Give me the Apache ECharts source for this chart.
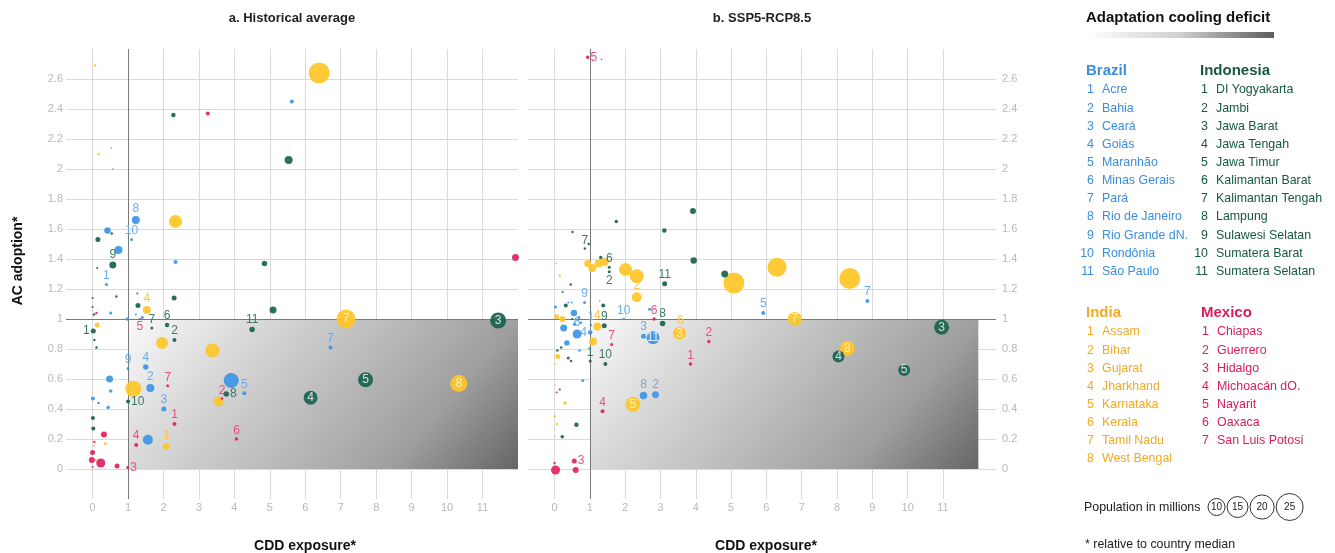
<!DOCTYPE html>
<html>
<head>
<meta charset="utf-8">
<title>AC adoption vs CDD exposure</title>
<script src="https://cdn.jsdelivr.net/npm/echarts@6.0.0/dist/echarts.min.js"></script>
<style>
  html, body { margin: 0; padding: 0; background: #fff; }
  #main { width: 1335px; height: 553px; }
</style>
</head>
<body>
<div id="main"></div>
<script>
// rows: [CDD exposure, AC adoption, population (millions), state number]
var histBrazil = [
  [0.39, 1.23, 0.31, '1'], [1.63, 0.54, 2.19, '2'], [2.01, 0.40, 0.86, '3'], [1.50, 0.68, 1.04, '4'],
  [4.28, 0.505, 0.55, '5'], [1.56, 0.195, 3.43, ''], [6.71, 0.81, 0.55, '7'], [1.22, 1.66, 2.19, '8'],
  [1.00, 0.67, 0.31, '9'], [1.10, 1.53, 0.31, '10'], [3.91, 0.59, 7.72, ''],
  [5.62, 2.45, 0.55, ''], [0.53, 2.14, 0.08, ''], [0.57, 2.00, 0.08, ''], [0.42, 1.59, 1.45, ''],
  [0.73, 1.46, 2.19, ''], [2.34, 1.38, 0.55, ''], [0.51, 1.04, 0.31, ''], [0.98, 1.00, 0.42, ''],
  [1.22, 1.03, 0.14, ''], [1.40, 1.01, 0.31, ''], [0.48, 0.60, 1.68, ''], [0.51, 0.52, 0.42, ''],
  [0.01, 0.47, 0.55, ''], [0.44, 0.41, 0.42, '']
];
var histIndonesia = [
  [0.02, 0.92, 0.86, '1'], [2.31, 0.86, 0.55, '2'], [11.44, 0.99, 8.78, '3'], [6.15, 0.475, 6.72, '4'],
  [7.70, 0.595, 7.72, '5'], [2.10, 0.96, 0.69, '6'], [1.67, 0.94, 0.31, '7'], [3.77, 0.50, 1.04, '8'],
  [0.57, 1.36, 1.68, '9'], [1.00, 0.45, 0.55, '10'], [4.50, 0.93, 1.04, '11'],
  [2.28, 2.36, 0.69, ''], [5.53, 2.06, 2.19, ''], [0.54, 1.57, 0.21, ''], [0.15, 1.53, 0.86, ''],
  [0.13, 1.34, 0.14, ''], [4.85, 1.37, 1.04, ''], [5.09, 1.06, 1.68, ''], [0.00, 1.14, 0.14, ''],
  [0.67, 1.15, 0.21, ''], [2.30, 1.14, 0.86, ''], [0.00, 1.08, 0.14, ''], [0.04, 1.03, 0.21, ''],
  [1.28, 1.09, 0.86, ''], [0.05, 0.86, 0.21, ''], [0.11, 0.81, 0.21, ''], [0.17, 0.44, 0.14, ''],
  [0.01, 0.34, 0.55, ''], [0.02, 0.27, 0.55, '']
];
var histIndia = [
  [2.08, 0.15, 1.68, '1'], [3.55, 0.45, 3.43, ''], [1.53, 1.06, 2.19, '4'], [7.15, 1.00, 12.4, '7'],
  [10.33, 0.57, 9.91, '8'],
  [6.39, 2.64, 15.1, ''], [0.07, 2.69, 0.21, ''], [0.17, 2.10, 0.21, ''], [2.34, 1.65, 5.8, ''],
  [0.13, 0.96, 0.86, ''], [1.96, 0.84, 4.94, ''], [3.38, 0.79, 6.72, ''], [1.15, 0.535, 8.78, ''],
  [0.36, 0.17, 0.31, ''], [0.04, 0.155, 0.14, ''], [0.08, 0.06, 0.21, ''], [0.00, -0.005, 0.14, ''],
  [0.02, 0.27, 0.21, '']
];
var histMexico = [
  [2.31, 0.30, 0.55, '1'], [3.65, 0.47, 0.21, '2'], [0.99, 0.01, 0.31, '3'], [1.23, 0.16, 0.55, '4'],
  [1.33, 1.00, 0.14, '5'], [4.06, 0.20, 0.42, '6'], [2.12, 0.555, 0.31, '7'],
  [3.25, 2.37, 0.55, ''], [11.93, 1.41, 1.68, ''], [1.26, 1.17, 0.14, ''], [0.11, 1.04, 0.21, ''],
  [0.32, 0.23, 1.23, ''], [0.05, 0.18, 0.21, ''], [0.00, 0.11, 0.86, ''], [-0.02, 0.06, 1.23, ''],
  [0.23, 0.04, 2.78, ''], [0.00, 0.013, 0.14, ''], [0.69, 0.02, 0.86, '']
];

var sspBrazil = [
  [1.03, 0.96, 0.21, '1'], [2.86, 0.495, 1.68, '2'], [2.52, 0.885, 0.86, '3'], [1.01, 0.91, 0.69, '4'],
  [5.91, 1.04, 0.55, '5'], [0.64, 0.90, 2.78, '6'], [8.86, 1.12, 0.55, '7'], [2.52, 0.49, 1.93, '8'],
  [0.85, 1.11, 0.31, '9'], [1.96, 1.00, 0.21, '10'], [2.79, 0.875, 5.8, '11'],
  [2.69, 1.065, 0.31, ''], [0.55, 1.04, 1.45, ''], [0.26, 0.94, 1.68, ''], [0.35, 0.84, 1.04, ''],
  [0.80, 0.59, 0.31, ''], [0.03, 1.08, 0.31, ''], [0.39, 1.11, 0.14, ''], [0.49, 1.11, 0.14, ''],
  [1.28, 1.12, 0.08, ''], [0.69, 1.01, 0.31, ''], [0.57, 0.965, 0.42, ''], [0.75, 0.975, 0.21, ''],
  [0.71, 0.79, 0.21, '']
];
var sspIndonesia = [
  [1.01, 0.72, 0.31, '1'], [1.55, 1.315, 0.31, '2'], [10.96, 0.945, 7.72, '3'], [8.04, 0.75, 4.94, '4'],
  [9.90, 0.66, 4.94, '5'], [1.55, 1.345, 0.31, '6'], [0.86, 1.47, 0.21, '7'], [3.06, 0.97, 1.04, '8'],
  [1.41, 0.955, 0.86, '9'], [1.44, 0.70, 0.55, '10'], [3.12, 1.235, 0.86, '11'],
  [3.92, 1.72, 1.23, ''], [1.75, 1.65, 0.42, ''], [3.11, 1.59, 0.69, ''], [0.51, 1.58, 0.21, ''],
  [0.97, 1.50, 0.21, ''], [3.94, 1.39, 1.45, ''], [1.31, 1.41, 0.42, ''], [0.46, 1.23, 0.21, ''],
  [0.23, 1.18, 0.14, ''], [4.82, 1.30, 1.68, ''], [0.32, 1.09, 0.55, ''], [1.38, 1.09, 0.55, ''],
  [0.50, 1.00, 0.14, ''], [0.08, 0.79, 0.21, ''], [0.19, 0.81, 0.21, ''], [0.39, 0.74, 0.31, ''],
  [0.47, 0.72, 0.21, ''], [0.15, 0.53, 0.14, ''], [0.62, 0.295, 0.69, ''], [0.22, 0.215, 0.42, '']
];
var sspIndia = [
  [1.09, 0.85, 2.19, ''], [2.33, 1.145, 3.43, '2'], [3.54, 0.905, 5.8, '3'], [1.21, 0.95, 2.19, '4'],
  [2.22, 0.43, 7.72, '5'], [3.56, 0.91, 2.78, '6'], [6.80, 1.00, 6.72, '7'], [8.29, 0.805, 7.72, '8'],
  [0.94, 1.37, 1.68, ''], [1.07, 1.34, 2.19, ''], [1.25, 1.37, 2.19, ''], [1.42, 1.38, 2.19, ''],
  [2.01, 1.33, 5.8, ''], [2.33, 1.285, 6.72, ''], [5.08, 1.24, 15.1, ''], [6.30, 1.345, 12.4, ''],
  [8.36, 1.27, 15.1, ''], [0.05, 1.37, 0.14, ''], [0.15, 1.29, 0.21, ''], [0.06, 1.015, 0.86, ''],
  [0.22, 1.00, 1.23, ''], [0.09, 0.75, 0.86, ''], [0.02, 0.56, 0.08, ''], [0.30, 0.44, 0.42, ''],
  [0.01, 0.35, 0.21, ''], [0.07, 0.30, 0.21, ''], [0.02, 0.215, 0.08, ''], [0.02, 0.70, 0.08, '']
];
var sspMexico = [
  [3.85, 0.70, 0.42, '1'], [4.37, 0.85, 0.42, '2'], [0.56, 0.053, 0.86, '3'], [1.36, 0.385, 0.55, '4'],
  [0.94, 2.745, 0.42, '5'], [2.82, 1.00, 0.42, '6'], [1.62, 0.83, 0.31, '7'],
  [1.33, 2.73, 0.08, ''], [0.06, 0.51, 0.14, ''], [0.03, -0.007, 2.78, ''], [0.60, -0.007, 1.23, ''],
  [0.00, 0.04, 0.21, '']
];

var xTicks = [0, 1, 2, 3, 4, 5, 6, 7, 8, 9, 10, 11];
var yTicks = [0, 0.2, 0.4, 0.6, 0.8, 1, 1.2, 1.4, 1.6, 1.8, 2, 2.2, 2.4, 2.6];

var brazilStates = ['Acre', 'Bahia', 'Ceará', 'Goiás', 'Maranhão', 'Minas Gerais', 'Pará', 'Rio de Janeiro', 'Rio Grande dN.', 'Rondônia', 'São Paulo'];
var indonesiaStates = ['DI Yogyakarta', 'Jambi', 'Jawa Barat', 'Jawa Tengah', 'Jawa Timur', 'Kalimantan Barat', 'Kalimantan Tengah', 'Lampung', 'Sulawesi Selatan', 'Sumatera Barat', 'Sumatera Selatan'];
var indiaStates = ['Assam', 'Bihar', 'Gujarat', 'Jharkhand', 'Karnataka', 'Kerala', 'Tamil Nadu', 'West Bengal'];
var mexicoStates = ['Chiapas', 'Guerrero', 'Hidalgo', 'Michoacán dO.', 'Nayarit', 'Oaxaca', 'San Luis Potosí'];
var popLegend = [10, 15, 20, 25];

var chart = echarts.init(document.getElementById('main'));
var FONT = '"Liberation Sans", Arial, sans-serif';
var NARROW = '"Liberation Sans Narrow", "Liberation Sans", Arial, sans-serif';

var colors = { Brazil: '#3d96e6', Indonesia: '#1c6351', India: '#ffc629', Mexico: '#e0255f' };
var labelColors = { Brazil: '#5ea9ee', Indonesia: '#2f6f5c', India: '#f6c244', Mexico: '#e4457a' };
var innerColors = { Brazil: '#e3f0fc', Indonesia: '#dde9e4', India: '#fff3cf', Mexico: '#fde3ea' };
var textColors = { Brazil: '#3a8edb', Indonesia: '#17593f', India: '#f2aa22', Mexico: '#d81d5c' };

var sizeOf = function (pop) { return Math.sqrt(pop) * 5.4; };

// labels that do not sit above their bubble
var labelSide = {
  'a|Indonesia|1': 'left', 'a|Indonesia|8': 'right', 'a|Indonesia|10': 'right',
  'a|Mexico|3': 'right', 'a|Mexico|5': 'bottom',
  'b|Mexico|5': 'right', 'b|Mexico|3': 'right', 'b|Indonesia|2': 'bottom',
  'b|Brazil|4': 'left', 'b|India|6': 'top'
};

function makeSeries(panel, g, country, rows) {
  var sorted = rows.slice().sort(function (a, b) { return b[2] - a[2]; });
  return {
    type: 'scatter', name: country, xAxisIndex: g, yAxisIndex: g, z: 3,
    itemStyle: { color: colors[country], opacity: 0.93 },
    data: sorted.map(function (r) {
      var size = sizeOf(r[2]);
      var pos = labelSide[panel + '|' + country + '|' + r[3]] || (size > 11 ? 'inside' : 'top');
      return {
        value: [r[0], r[1], r[2]],
        symbolSize: size,
        label: {
          show: r[3] !== '', formatter: r[3], position: pos, distance: 1,
          fontSize: 12, fontFamily: NARROW,
          color: pos === 'inside' ? innerColors[country] : labelColors[country]
        }
      };
    })
  };
}

function refSeries(g) {
  return {
    type: 'line', xAxisIndex: g, yAxisIndex: g, data: [], z: 1, silent: true,
    markArea: {
      silent: true, z: 1,
      itemStyle: {
        color: new echarts.graphic.LinearGradient(0, 0, 0.76, 1.72, [
          { offset: 0, color: '#f9f9f9' }, { offset: 0.25, color: '#d9d9d9' },
          { offset: 0.75, color: '#9f9f9f' }, { offset: 1, color: '#656565' }
        ])
      },
      data: [[{ coord: [1, 0] }, { coord: [12, 1] }]]
    },
    markLine: {
      silent: true, z: 2, symbol: 'none', label: { show: false },
      lineStyle: { color: '#7a7a7a', width: 1, type: 'solid' },
      data: [{ xAxis: 1 }, { yAxis: 1 }]
    }
  };
}

function xAxisFor(g, max) {
  return {
    type: 'value', gridIndex: g, min: -0.75, max: max,
    axisLine: { show: false },
    axisTick: { show: false, customValues: xTicks },
    axisLabel: {
      customValues: xTicks, margin: 3, fontSize: 11, fontFamily: FONT,
      color: function (v) { return v === 1 ? '#222' : '#b9b9b9'; }
    },
    splitLine: { show: true, lineStyle: { color: '#dadada', width: 1 } }
  };
}

function yAxisFor(g, side) {
  return {
    type: 'value', gridIndex: g, min: -0.2, max: 2.8, position: side,
    axisLine: { show: false },
    axisTick: { show: false, customValues: yTicks },
    axisLabel: {
      customValues: yTicks, margin: side === 'left' ? 3 : 6, fontSize: 11, fontFamily: FONT,
      color: function (v) { return v === 1 ? '#222' : '#b9b9b9'; }
    },
    splitLine: { show: true, lineStyle: { color: '#dadada', width: 1 } }
  };
}

var graphics = [];
function txt(x, y, text, font, fill, align, rot) {
  graphics.push({
    type: 'text', x: x, y: y, rotation: rot || 0, silent: true,
    style: { text: text, font: font, fill: fill, textAlign: align || 'left', textVerticalAlign: 'middle' }
  });
}

// titles and axis names
txt(292, 18, 'a. Historical average', 'bold 13px ' + FONT, '#222', 'center');
txt(762, 18, 'b. SSP5-RCP8.5', 'bold 13px ' + FONT, '#222', 'center');
txt(305, 546, 'CDD exposure*', 'bold 14px ' + FONT, '#111', 'center');
txt(766, 546, 'CDD exposure*', 'bold 14px ' + FONT, '#111', 'center');
txt(18, 261, 'AC adoption*', 'bold 14px ' + FONT, '#111', 'center', Math.PI / 2);

// deficit legend
txt(1086, 18, 'Adaptation cooling deficit', 'bold 15px ' + FONT, '#111', 'left');
graphics.push({
  type: 'rect', silent: true, shape: { x: 1087, y: 32, width: 187, height: 6 },
  style: {
    fill: new echarts.graphic.LinearGradient(0, 0, 1, 0, [
      { offset: 0, color: '#ffffff' }, { offset: 0.5, color: '#cfcfcf' }, { offset: 1, color: '#5c5c5c' }
    ])
  }
});

function stateList(country, names, x, y) {
  txt(x, y, country, 'bold 15px ' + FONT, textColors[country], 'left');
  names.forEach(function (n, i) {
    var yy = y + 19 + i * 18.15;
    txt(x + 8, yy, String(i + 1), '12.4px ' + FONT, textColors[country], 'right');
    txt(x + 16, yy, n, '12.4px ' + FONT, textColors[country], 'left');
  });
}
stateList('Brazil', brazilStates, 1086, 71);
stateList('Indonesia', indonesiaStates, 1200, 71);
stateList('India', indiaStates, 1086, 313);
stateList('Mexico', mexicoStates, 1201, 313);

// population legend
txt(1084, 508, 'Population in millions', '12.4px ' + FONT, '#222', 'left');
var cx = 1208;
popLegend.forEach(function (p) {
  var r = sizeOf(p) / 2;
  cx += r;
  graphics.push({
    type: 'circle', silent: true, shape: { cx: cx, cy: 507, r: r },
    style: { fill: '#fff', stroke: '#333', lineWidth: 1 }
  });
  txt(cx, 507, String(p), '10px ' + FONT, '#222', 'center');
  cx += r + 2;
});
txt(1085, 545, '* relative to country median', '12.4px ' + FONT, '#222', 'left');

var option = {
  animation: false,
  backgroundColor: '#fff',
  grid: [
    { left: 66, top: 49, width: 452, height: 450 },
    { left: 528, top: 49, width: 468, height: 450 }
  ],
  xAxis: [xAxisFor(0, 12), xAxisFor(1, 12.5)],
  yAxis: [yAxisFor(0, 'left'), yAxisFor(1, 'right')],
  graphic: graphics,
  series: [
    refSeries(0), refSeries(1),
    makeSeries('a', 0, 'India', histIndia),
    makeSeries('a', 0, 'Indonesia', histIndonesia),
    makeSeries('a', 0, 'Brazil', histBrazil),
    makeSeries('a', 0, 'Mexico', histMexico),
    makeSeries('b', 1, 'India', sspIndia),
    makeSeries('b', 1, 'Indonesia', sspIndonesia),
    makeSeries('b', 1, 'Brazil', sspBrazil),
    makeSeries('b', 1, 'Mexico', sspMexico)
  ]
};
chart.setOption(option);
</script>
</body>
</html>
